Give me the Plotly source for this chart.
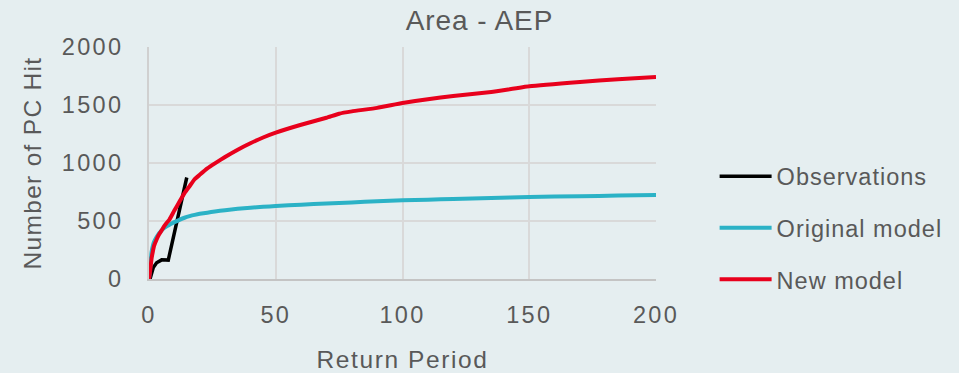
import plotly.graph_objects as go

# Data
obs_rp = [0.4, 1.7, 3.0, 5.0, 7.6, 9.0, 11.0, 13.0, 14.9]
obs_hits = [0, 100, 140, 165, 163, 300, 490, 690, 875]

model_rp = [0, 0.5, 1, 1.5, 2, 3, 4, 5, 6, 7, 8, 10, 12, 14, 16, 18, 20, 23, 26, 30,
            35, 40, 45, 50, 60, 70, 75, 80, 90, 100, 110, 120, 135, 150, 170, 185, 200]
original_model = [0, 110, 230, 285, 320, 362, 395, 420, 440, 455, 466, 490, 510, 528, 542,
                  553, 562, 572, 582, 593, 605, 615, 622, 629, 641, 651, 655, 660, 670, 678,
                  684, 690, 698, 707, 714, 719, 724]
new_model = [0, 80, 175, 235, 285, 340, 385, 420, 455, 485, 510, 590, 665, 740, 800,
             860, 898, 953, 997, 1052, 1115, 1170, 1220, 1262, 1330, 1390, 1425, 1445,
             1475, 1517, 1550, 1578, 1612, 1661, 1698, 1722, 1741]

x_ticks = [0, 50, 100, 150, 200]
y_ticks = [0, 500, 1000, 1500, 2000]
series_names = ["Observations", "Original model", "New model"]

BG = "#e5eef0"
TXT = "#595959"
FONT = "Liberation Sans"


def spaced(text, ls):
    return f'<span style="letter-spacing:{ls}px">{text}</span>'


fig = go.Figure()
fig.add_trace(go.Scatter(x=obs_rp, y=obs_hits, mode="lines", name=spaced(series_names[0], 1),
                         line=dict(color="#000000", width=3.5), legendgroup="a"))
fig.add_trace(go.Scatter(x=model_rp, y=original_model, mode="lines",
                         name=spaced(series_names[1], 1),
                         line=dict(color="#2bb2c6", width=4, shape="spline", smoothing=0.4),
                         legendgroup="b"))
fig.add_trace(go.Scatter(x=model_rp, y=new_model, mode="lines", name=spaced(series_names[2], 1),
                         line=dict(color="#e8001c", width=4, shape="spline", smoothing=0.4),
                         legendgroup="c"))

fig.update_layout(
    width=959, height=373,
    paper_bgcolor=BG, plot_bgcolor=BG,
    margin=dict(l=149, r=303, t=47, b=94, autoexpand=False),
    font=dict(family=FONT, color=TXT, size=23),
    title=dict(text=spaced("Area - AEP", 0.9), x=0.5, xref="container", y=0.947,
               yref="container", yanchor="middle", xanchor="center",
               font=dict(size=28, color=TXT)),
    showlegend=True,
    legend=dict(x=1.1156, xanchor="left", y=0.22, yanchor="middle",
                font=dict(size=23.5, color=TXT), tracegroupgap=18, itemwidth=52,
                bgcolor="rgba(0,0,0,0)"),
)
fig.update_xaxes(range=[0, 200], tickvals=x_ticks,
                 ticktext=[spaced(str(v), 2.3) for v in x_ticks],
                 tickfont=dict(size=23.5, color=TXT),
                 showgrid=True, gridcolor="#d9d9d9", automargin=False,
                 gridwidth=2, showline=True, linecolor="#c4c4c4", linewidth=2,
                 zeroline=False, ticks="", ticklabelstandoff=14,
                 title=dict(text=spaced("Return Period", 1.6),
                            font=dict(size=24.5, color=TXT), standoff=26))
fig.update_yaxes(range=[0, 2000], tickvals=y_ticks,
                 ticktext=[spaced(str(v), 2.3) for v in y_ticks],
                 tickfont=dict(size=23.5, color=TXT),
                 showgrid=True, gridcolor="#d9d9d9", automargin=False,
                 gridwidth=2, showline=True, linecolor="#d0d0d0", linewidth=2,
                 zeroline=False, ticks="", ticklabelstandoff=19,
                 title=dict(text=spaced("Number of PC Hit", 1.3),
                            font=dict(size=24.5, color=TXT), standoff=13))

fig.write_html("out.html", config={"displayModeBar": False},
               post_script="document.body.style.margin='0';")
